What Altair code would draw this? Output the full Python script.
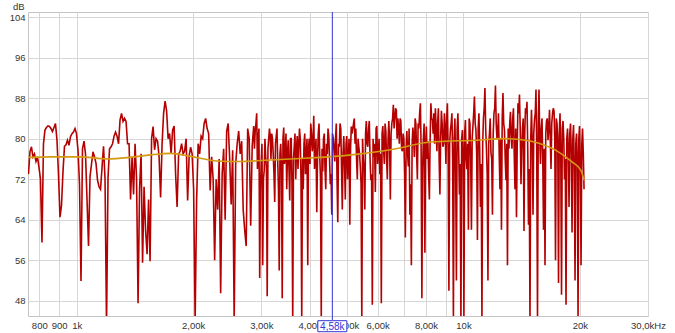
import altair as alt
import numpy as np
import pandas as pd

# ---- data ----
f_start, f_end = 750, 20500
red_db = [
    73, 77.4, 78.4, 76.4, 77, 75.5, 76.4, 74.4, 72, 59.5,
    79, 81.7, 82.2, 82.5, 82.4, 82, 81.4, 82.2, 83, 79.7,
    73, 64.5, 66.8, 73.5, 78.5, 78.8, 79.7, 78.7, 80.4, 81,
    81.3, 82, 81, 77.7, 71, 51.9, 78, 79.5, 77, 68,
    58.8, 72.5, 75, 77.4, 76.4, 75.1, 71.8, 70.5, 70, 74.3,
    78.5, 72, 43, 72.4, 78, 78.4, 79, 80.5, 81.3, 80.5,
    79, 83.7, 85, 83.4, 84, 83.4, 79,
    79, 68, 76.4,
    69, 79, 72, 47.5, 70, 77, 55.5, 70.5, 62, 57.2,
    68, 55.8, 80, 82.4, 77.8, 80, 79.5, 76.4, 68.4, 79,
    85, 87.4, 85.5, 80, 81, 77, 81.7, 82.5, 73, 66.5,
    77, 77.5, 79, 77, 77.5, 80, 67.8, 76.6, 78.3, 77,
    70, 44, 68, 79, 77, 80.5, 80, 83, 84, 82,
    81, 69.8, 76.4, 72, 56, 72, 66, 76, 49.5, 73,
    78, 64, 81.5,
    83, 76, 67, 77.7, 44, 75, 79,
    81.5, 77, 79.5, 66, 62, 58.8, 82, 80, 62.8, 78.5,
    82.5, 81.5, 85, 80, 52.5, 75.5, 55, 73.7, 76.4, 48.9,
    80, 80.5, 81, 77, 67.5, 80.4, 75.5, 54, 79, 48.5,
    82.2, 76.4, 70, 79.7, 67.8, 80, 44, 78.4, 72, 80.5,
    78.5, 80, 44, 70, 81, 76.4, 55, 80, 83, 77.5,
    84.5, 77, 65.5, 81, 76.4, 44, 73.5, 81, 70, 77,
    80.5, 71, 65, 80, 75.5, 83, 63.5, 78.4, 82, 66,
    80.5, 68, 80.5, 76.4, 63, 82.4, 82, 84, 82, 72,
    78.4, 74.5, 44, 76, 66, 83.5, 78.4, 83.5, 71.8, 47.2,
    76.4, 69.5, 82.5, 77, 73, 47.5, 82.5, 75, 81.5, 72,
    83.5, 68, 83, 86.7, 84, 85.6, 84, 79, 83.5, 77.5,
    80, 60.5, 81.5, 74.5, 65, 55, 82.2, 76.4, 83, 72,
    82, 87, 48.5, 80, 57.5, 82.4, 79.5,
    68, 87, 83.7,
    85, 86, 77.5, 86, 69, 85.5, 78.4, 85, 75, 87,
    50, 81.7, 85, 44, 84, 52, 85, 69, 44, 81.7,
    44.5, 83.7, 74, 62, 83, 62, 82.5, 88.3, 81.7, 60,
    85, 66.5, 44, 84, 90, 78, 52, 81, 77.3, 65,
    85, 90.5, 80, 85, 70, 62, 89, 81.7, 71.8, 55,
    78, 85.3, 78, 86, 70, 64.5, 87, 88.7, 71, 82,
    61.8, 86, 87.3, 63, 44, 85.7, 65, 83.7, 89.7, 44.5,
    89.7, 75, 84, 62, 55, 83.5, 79.7, 85.7, 74, 85,
    85.5, 56, 83, 51.5, 85, 49.2, 83.5, 72, 47.2, 82,
    66.5, 83, 61.5, 82.7, 52, 81, 44, 82.5, 55, 82,
    70,
]

# extra in-between readings where the trace is densely filled (from ~2.6 kHz up);
# entry k sits between red_db[mid_start + k] and red_db[mid_start + k + 1]
mid_start = 150
red_db_mid = [
    78, 83, 74, 82, 70, 79, 72, 80, 74, 78,
    82, 76, 80, 73, 79, 82, 70, 77, 74, 80,
    75, 81, 77, 74, 80, 71, 76, 81, 78, 74,
    82, 72, 76, 79, 73, 80, 78, 75, 81, 79,
    74, 80, 76, 83, 72, 78, 80, 74, 79, 82,
    76, 73, 81, 78, 80, 72, 79, 83, 74, 77,
    75, 79, 72, 80, 78, 81, 83, 79, 76, 80,
    77, 71, 80, 74, 81, 79, 82, 76, 73, 80,
    79, 82, 75, 80, 77, 81, 78, 83, 76, 80,
    79, 81, 84, 82, 86, 80, 82, 84, 78, 81,
    73, 78, 77, 82, 71, 79, 80, 84, 77, 83,
    85, 78, 74, 83, 79, 76, 73, 80, 84, 81,
    79, 82, 83, 76, 80, 83, 79, 82, 84, 77,
    79, 83, 76, 80, 74, 82, 78, 75, 80, 77,
    81, 76, 79, 84, 76, 80, 85, 83, 77, 82,
    78, 75, 79, 86, 82, 73, 79, 84, 76, 81,
    86, 83, 81, 77, 80, 84, 83, 76, 79, 82,
    83, 80, 84, 77, 82, 79, 85, 82, 78, 84,
    81, 85, 78, 74, 80, 79, 81, 85, 77, 83,
    80, 82, 76, 78, 81, 84, 82, 80, 83, 86,
    80, 84, 79, 81, 77, 82, 80, 76, 80, 78,
    81, 77, 80, 74, 79, 76, 80, 75, 79, 77,
]

smooth_f = [750, 850, 1020, 1200, 1370, 1550, 1750, 1970, 2310, 2650, 3170, 3790,
            4480, 5420, 6480, 8130, 10760, 12870, 14500, 15670, 17340, 19080, 20140, 20500]
smooth_db = [76.3, 76.4, 76.4, 76.0, 76.3, 76.8, 77.1, 76.5, 75.6, 75.5, 75.8, 76.1,
             76.4, 77.0, 77.8, 79.3, 79.7, 80.0, 79.7, 79.1, 77.7, 75.4, 73.7, 71.8]

x_ticks = [800, 900, 1000, 2000, 3000, 4000, 5000, 6000, 7000, 8000, 9000, 10000, 20000, 30000]
x_labels = ["800", "900", "1k", "2,00k", "3,00k", "4,00k", "5,00k", "6,00k", "", "8,00k", "",
            "10k", "20k", "30,0kHz"]
y_ticks = [48, 56, 64, 72, 80, 88, 96, 104]

cursor_f = [4580]
cursor_label = ["4,58k"]

# ---- build tables ----
main_f = np.geomspace(f_start, f_end, len(red_db))
n_mid = len(red_db_mid)
mid_f = np.sqrt(main_f[mid_start:mid_start + n_mid] * main_f[mid_start + 1:mid_start + 1 + n_mid])
df_red = pd.concat([
    pd.DataFrame({"freq": main_f, "db": red_db}),
    pd.DataFrame({"freq": mid_f, "db": red_db_mid}),
]).sort_values("freq").reset_index(drop=True)
df_smooth = pd.DataFrame({"freq": smooth_f, "db": smooth_db})
df_cursor = pd.DataFrame({"freq": cursor_f, "label": cursor_label})

label_expr = " : ".join(f"datum.value == {v} ? '{l}'" for v, l in zip(x_ticks, x_labels)) + " : ''"

FONT = "Liberation Sans"
TXT = "#333333"
GRID = "#d6d6d6"
BLUE = "#3434d8"

xscale = alt.Scale(type="log", domain=[748, 30000], nice=False)
yscale = alt.Scale(domain=[45, 105], nice=False, zero=False)

x_axis = alt.Axis(values=x_ticks, labelExpr=label_expr, grid=True, gridColor=GRID, ticks=False,
                  domain=False, labelOverlap=False, labelFlush=False, labelBound=False, title=None,
                  labelPadding=4, labelFontSize=9.5, labelColor=TXT, labelFont=FONT)
y_axis = alt.Axis(values=y_ticks, grid=True, gridColor=GRID, ticks=False, domain=False,
                  labelPadding=3, labelFontSize=9.5, labelColor=TXT, labelFont=FONT,
                  title="dB", titleAngle=0, titleX=-4, titleY=-6, titleAlign="right",
                  titleBaseline="middle", titleFontWeight="normal", titleFontSize=9.5,
                  titleColor=TXT, titleFont=FONT)

X = alt.X("freq:Q", scale=xscale, axis=x_axis, sort=None)
Y = alt.Y("db:Q", scale=yscale, axis=y_axis)

red = alt.Chart(df_red).mark_line(color="#b40000", strokeWidth=1.6, clip=True).encode(
    x=X, y=Y, order=alt.Order("freq:Q"))

smooth = alt.Chart(df_smooth).mark_line(color="#d49a10", strokeWidth=1.6,
                                        interpolate="monotone").encode(x=X, y=Y)

rule = alt.Chart(df_cursor).mark_rule(color=BLUE, strokeWidth=1).encode(
    x=X, y=alt.value(0), y2=alt.value(308))

box = alt.Chart(df_cursor).mark_point(
    shape="M-1,-0.38L1,-0.38L1,0.38L-1,0.38Z", size=841, filled=True,
    fill="white", stroke=BLUE, strokeWidth=1, opacity=1,
).encode(x=X, y=alt.value(314.2))

label = alt.Chart(df_cursor).mark_text(
    color=BLUE, fontSize=10, font=FONT, baseline="middle", align="center"
).encode(x=X, y=alt.value(314.7), text="label:N")

chart = alt.layer(red, smooth, rule, box, label).properties(
    width=620, height=304,
    autosize=alt.AutoSizeParams(type="none"),
    padding={"left": 28, "top": 12, "right": 27, "bottom": 17},
    background="white",
).configure_view(stroke="#c4c4c4", strokeWidth=1)

chart.save("out.html", embed_options={"renderer": "svg", "actions": False})
